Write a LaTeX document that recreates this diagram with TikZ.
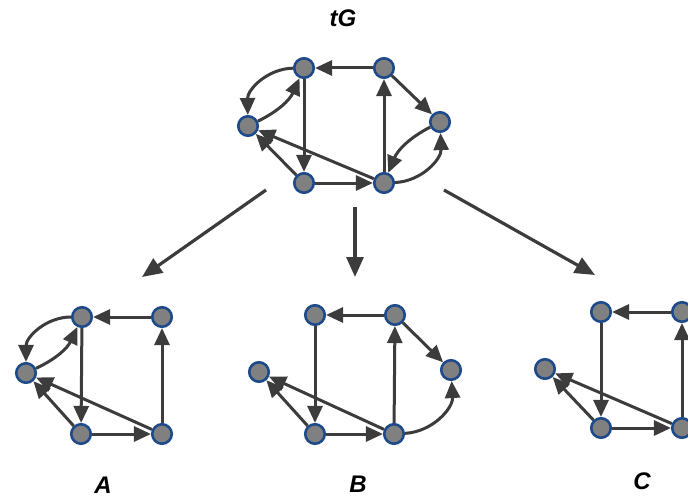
\documentclass[tikz,border=0pt]{standalone}
\usepackage{fontspec}
\setmainfont{Liberation Sans}
\usetikzlibrary{arrows.meta}
\definecolor{vblue}{HTML}{1F4A8A}
\definecolor{vgray}{HTML}{808080}
\definecolor{egray}{HTML}{3C3C3C}
\begin{document}
\begin{tikzpicture}[x=1pt,y=1pt,
  vtx/.style={circle,draw=vblue,fill=vgray,line width=2.6pt,minimum size=19.5pt,inner sep=0pt},
  edge/.style={draw=egray,line width=3pt,-{Triangle[length=17pt,width=15pt]}},
  big/.style={draw=egray,line width=3.2pt,-{Triangle[length=20pt,width=17pt]}},
  lab/.style={font=\bfseries\itshape\fontsize{24}{28}\selectfont,inner sep=0pt}]
\useasboundingbox (0,0) rectangle (688,499);

% ---- top graph tG
\node[lab] (tGl) at (343,481) {tG};
\node[vtx] (gTL) at (304,431) {};
\node[vtx] (gTR) at (384,431) {};
\node[vtx] (gL)  at (248,373) {};
\node[vtx] (gR)  at (440,377) {};
\node[vtx] (gBL) at (304,316) {};
\node[vtx] (gBR) at (384,316) {};
\draw[edge] (gTR) -- (gTL);
\draw[edge] (gTL) -- (gBL);
\draw[edge] (gBL) -- (gBR);
\draw[edge] (gBR) -- (gTR);
\draw[edge] (gTR) -- (gR);
\draw[edge] (gBR) -- (gL);
\draw[edge] (gBL) -- (gL);
\draw[edge] (gTL) to[bend right=45] (gL);
\draw[edge] (gL) to[bend right=20] (gTL);
\draw[edge] (gBR) to[bend right=45] (gR);
\draw[edge] (gR) to[bend right=20] (gBR);

% ---- big arrows
\coordinate (s1) at (266,309);
\coordinate (e1) at (142,222);
\coordinate (s2) at (355,292);
\coordinate (e2) at (355,222);
\coordinate (s3) at (444,309);
\coordinate (e3) at (595,224);
\draw[big] (s1) -- (e1);
\draw[big] (s2) -- (e2);
\draw[big] (s3) -- (e3);

% ---- graph A
\node[vtx] (aTL) at (82,182) {};
\node[vtx] (aTR) at (162,182) {};
\node[vtx] (aL)  at (26,126) {};
\node[vtx] (aBL) at (81,65) {};
\node[vtx] (aBR) at (162,65) {};
\draw[edge] (aTR) -- (aTL);
\draw[edge] (aTL) -- (aBL);
\draw[edge] (aBL) -- (aBR);
\draw[edge] (aBR) -- (aTR);
\draw[edge] (aBR) -- (aL);
\draw[edge] (aBL) -- (aL);
\draw[edge] (aTL) to[bend right=45] (aL);
\draw[edge] (aL) to[bend right=20] (aTL);
\node[lab] (Al) at (103,14) {A};

% ---- graph B
\node[vtx] (bTL) at (315,184) {};
\node[vtx] (bTR) at (395,184) {};
\node[vtx] (bL)  at (259,127) {};
\node[vtx] (bR)  at (451,129) {};
\node[vtx] (bBL) at (315,65) {};
\node[vtx] (bBR) at (394,65) {};
\draw[edge] (bTR) -- (bTL);
\draw[edge] (bTL) -- (bBL);
\draw[edge] (bBL) -- (bBR);
\draw[edge] (bBR) -- (bTR);
\draw[edge] (bTR) -- (bR);
\draw[edge] (bBR) -- (bL);
\draw[edge] (bBL) -- (bL);
\draw[edge] (bBR) to[bend right=45] (bR);
\node[lab] (Bl) at (358,15) {B};

% ---- graph C
\node[vtx] (cTL) at (601,187) {};
\node[vtx] (cTR) at (682,187) {};
\node[vtx] (cL)  at (545,130) {};
\node[vtx] (cBL) at (601,71) {};
\node[vtx] (cBR) at (682,71) {};
\draw[edge] (cTR) -- (cTL);
\draw[edge] (cTL) -- (cBL);
\draw[edge] (cBL) -- (cBR);
\draw[edge] (cBR) -- (cTR);
\draw[edge] (cBR) -- (cL);
\draw[edge] (cBL) -- (cL);
\node[lab] (Cl) at (642,18) {C};
\end{tikzpicture}
\end{document}
